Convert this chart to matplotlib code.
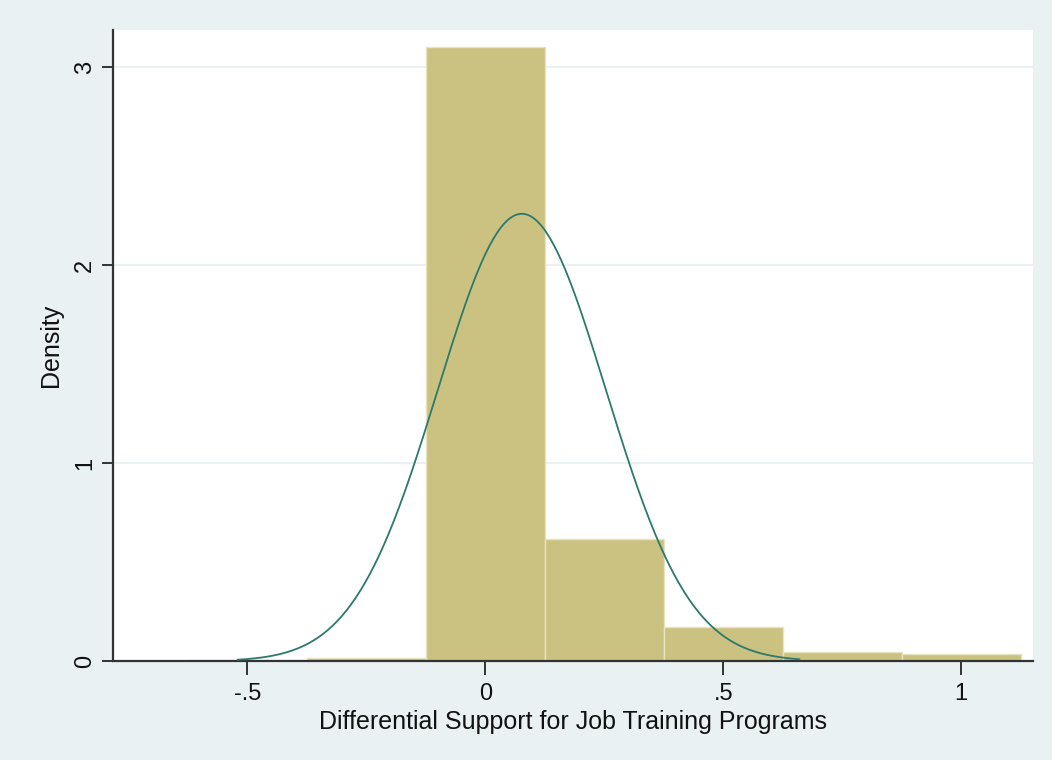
import numpy as np
import matplotlib.pyplot as plt

# bin edges and densities
bin_edges = [-0.625, -0.375, -0.125, 0.125, 0.375, 0.625, 0.875, 1.125]
densities = [0.008, 0.017, 3.10, 0.616, 0.175, 0.045, 0.034]

# normal overlay (mean, sd) and the range it is drawn over
norm_mean = 0.077
norm_sd = 0.1766
curve_from, curve_to = -0.52, 0.66

x_ticks = [-0.5, 0, 0.5, 1]
x_tick_labels = ['-.5', '0', '.5', '1']
y_ticks = [0, 1, 2, 3]
y_tick_labels = ['0', '1', '2', '3']

plt.rcParams['font.family'] = ['Liberation Sans', 'DejaVu Sans']

bg = '#e9f1f3'
fig = plt.figure(figsize=(10.52, 7.6), dpi=100, facecolor=bg)
ax = fig.add_axes([0.1074, 0.130, 0.8746, 0.8305])
ax.set_facecolor('white')

# grid behind the bars
for yv in y_ticks[1:]:
    ax.axhline(yv, color='#e6eff1', lw=1.2, zorder=0)

lefts = np.array(bin_edges[:-1])
widths = np.diff(bin_edges)
ax.bar(lefts, densities, width=widths, align='edge', color='#cbc282',
       edgecolor='#e8e3bf', linewidth=1.0, zorder=2)

xs = np.linspace(curve_from, curve_to, 300)
ys = np.exp(-0.5 * ((xs - norm_mean) / norm_sd) ** 2) / (norm_sd * np.sqrt(2 * np.pi))
ax.plot(xs, ys, color='#2b7a6c', lw=1.3, zorder=3)

ax.set_xlim(-0.782, 1.151)
ax.set_ylim(0, 3.187)

ax.set_xticks(x_ticks)
ax.set_xticklabels(x_tick_labels)
ax.set_yticks(y_ticks)
ax.set_yticklabels(y_tick_labels, rotation=90, va='center')

for side in ['top', 'right']:
    ax.spines[side].set_visible(False)
for side in ['left', 'bottom']:
    ax.spines[side].set_color('#333333')
    ax.spines[side].set_linewidth(1.6)

ax.tick_params(axis='x', direction='out', length=10, width=1.4,
               color='#333333', labelsize=17, labelcolor='#111111', pad=6)
ax.tick_params(axis='y', direction='out', length=8, width=1.4,
               color='#333333', labelsize=17, labelcolor='#111111', pad=4)

ax.set_xlabel('Differential Support for Job Training Programs', fontsize=18,
              color='#111111', labelpad=3)
ax.set_ylabel('Density', fontsize=18, color='#111111', labelpad=8)

fig.savefig('out.png', dpi=100, facecolor=bg)
